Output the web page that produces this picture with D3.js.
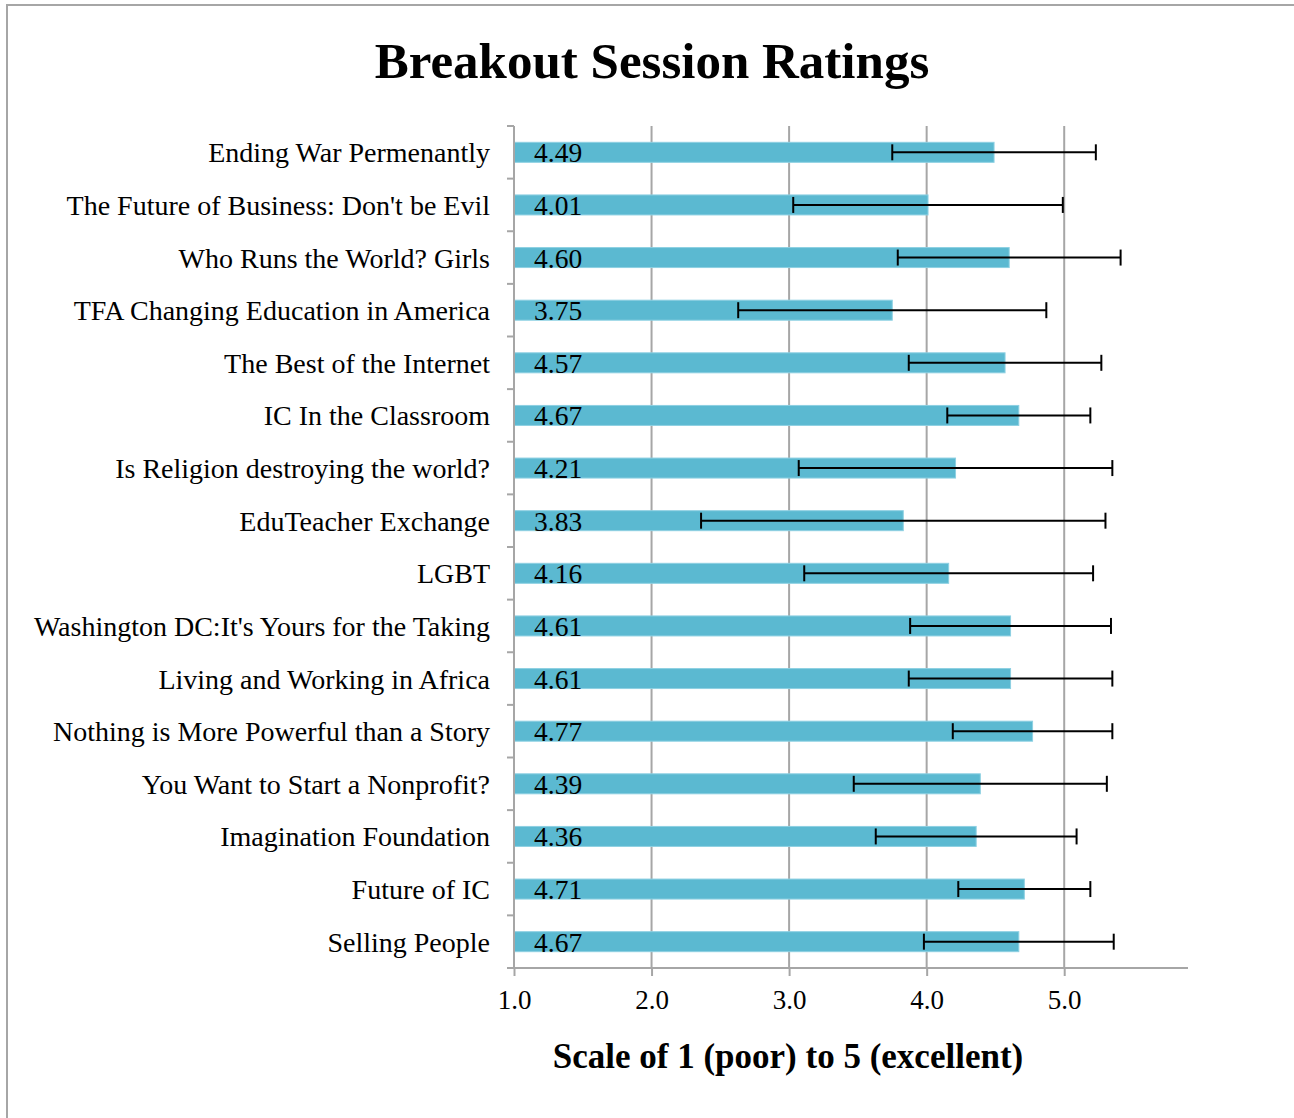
<!DOCTYPE html>
<html>
<head>
<meta charset="utf-8">
<script src="https://cdn.jsdelivr.net/npm/d3@7"></script>
<style>
  body { margin: 0; background: #fff; }
  svg { display: block; }
</style>
</head>
<body>
<script>
// session names, top to bottom as in the chart
var sessions = [
  "Ending War Permenantly",
  "The Future of Business: Don't be Evil",
  "Who Runs the World? Girls",
  "TFA Changing Education in America",
  "The Best of the Internet",
  "IC In the Classroom",
  "Is Religion destroying the world?",
  "EduTeacher Exchange",
  "LGBT",
  "Washington DC:It's Yours for the Taking",
  "Living and Working in Africa",
  "Nothing is More Powerful than a Story",
  "You Want to Start a Nonprofit?",
  "Imagination Foundation",
  "Future of IC",
  "Selling People"
];
// average rating per session
var ratings = [4.49, 4.01, 4.60, 3.75, 4.57, 4.67, 4.21, 3.83, 4.16, 4.61, 4.61, 4.77, 4.39, 4.36, 4.71, 4.67];
// +/- error (std dev)
var spread = [0.74, 0.98, 0.81, 1.12, 0.70, 0.52, 1.14, 1.47, 1.05, 0.73, 0.74, 0.58, 0.92, 0.73, 0.48, 0.69];
var xTicks = [1, 2, 3, 4, 5];

var svgWidth = 1294, svgHeight = 1118;
var margin = {top: 126, left: 514, right: 106, bottom: 150};
var plotW = svgWidth - margin.left - margin.right;   // 674
var plotH = svgHeight - margin.top - margin.bottom;  // 842

var svg = d3.select("body").append("svg")
  .attr("width", svgWidth)
  .attr("height", svgHeight);

// outer frame (runs off the right/bottom edge like the screenshot)
svg.append("rect")
  .attr("x", 7).attr("y", 5)
  .attr("width", 1400).attr("height", 1300)
  .attr("fill", "none")
  .attr("stroke", "#a6a6a6")
  .attr("stroke-width", 2);

var fontFam = "'Liberation Serif', 'Times New Roman', serif";

svg.append("text")
  .attr("x", 652).attr("y", 78)
  .attr("text-anchor", "middle")
  .attr("font-family", fontFam)
  .attr("font-weight", "bold")
  .attr("font-size", "51px")
  .text("Breakout Session Ratings");

var g = svg.append("g")
  .attr("transform", `translate(${margin.left}, ${margin.top})`);

var x = d3.scaleLinear().domain([1, 5.9]).range([0, plotW]);
var y = d3.scaleBand().domain(sessions).range([0, plotH]).paddingInner(0.62).paddingOuter(0.31);

var gridColor = "#a6a6a6";

// vertical gridlines
g.selectAll("line.grid")
  .data(xTicks.slice(1))
  .enter().append("line")
  .attr("class", "grid")
  .attr("x1", d => x(d)).attr("x2", d => x(d))
  .attr("y1", 0).attr("y2", plotH)
  .attr("stroke", gridColor).attr("stroke-width", 2);

// bars
g.selectAll("rect.bar")
  .data(sessions)
  .enter().append("rect")
  .attr("class", "bar")
  .attr("x", x(1))
  .attr("y", d => y(d))
  .attr("width", (d, i) => x(ratings[i]) - x(1))
  .attr("height", y.bandwidth())
  .attr("fill", "#5bb9d1")
  .attr("stroke", "#8dd0e2")
  .attr("stroke-width", 1);

// x axis
var xAxis = d3.axisBottom(x)
  .tickValues(xTicks)
  .tickFormat(d3.format(".1f"))
  .tickSize(8)
  .tickPadding(14);

var xg = g.append("g")
  .attr("transform", `translate(0, ${plotH})`)
  .call(xAxis);
xg.select(".domain").attr("stroke", gridColor).attr("stroke-width", 2)
  .attr("d", `M0,0H${plotW}`);
xg.selectAll(".tick line").attr("stroke", gridColor).attr("stroke-width", 2);
xg.selectAll(".tick text")
  .attr("font-family", fontFam)
  .attr("font-size", "27px")
  .attr("fill", "#000");

// y axis: line + ticks at band boundaries
g.append("line")
  .attr("x1", 0).attr("x2", 0)
  .attr("y1", 0).attr("y2", plotH)
  .attr("stroke", gridColor).attr("stroke-width", 2);

var step = y.step();
g.selectAll("line.ytick")
  .data(d3.range(sessions.length + 1))
  .enter().append("line")
  .attr("class", "ytick")
  .attr("x1", -7).attr("x2", 0)
  .attr("y1", i => i * step).attr("y2", i => i * step)
  .attr("stroke", gridColor).attr("stroke-width", 2);

// category labels
g.selectAll("text.cat")
  .data(sessions)
  .enter().append("text")
  .attr("class", "cat")
  .attr("x", -24)
  .attr("y", d => y(d) + y.bandwidth() / 2 + 10)
  .attr("text-anchor", "end")
  .attr("font-family", fontFam)
  .attr("font-size", "28px")
  .text(d => d);

// value labels inside the bars
g.selectAll("text.val")
  .data(sessions)
  .enter().append("text")
  .attr("class", "val")
  .attr("x", 20)
  .attr("y", d => y(d) + y.bandwidth() / 2 + 10)
  .attr("font-family", fontFam)
  .attr("font-size", "27.5px")
  .text((d, i) => ratings[i].toFixed(2));

// error bars
var eb = g.selectAll("g.err")
  .data(sessions)
  .enter().append("g")
  .attr("class", "err")
  .attr("transform", d => `translate(0, ${y(d) + y.bandwidth() / 2})`);

eb.append("line")
  .attr("x1", (d, i) => x(ratings[i] - spread[i]))
  .attr("x2", (d, i) => x(ratings[i] + spread[i]))
  .attr("stroke", "#000").attr("stroke-width", 2);
eb.append("line")
  .attr("x1", (d, i) => x(ratings[i] - spread[i]))
  .attr("x2", (d, i) => x(ratings[i] - spread[i]))
  .attr("y1", -8).attr("y2", 8)
  .attr("stroke", "#000").attr("stroke-width", 2);
eb.append("line")
  .attr("x1", (d, i) => x(ratings[i] + spread[i]))
  .attr("x2", (d, i) => x(ratings[i] + spread[i]))
  .attr("y1", -8).attr("y2", 8)
  .attr("stroke", "#000").attr("stroke-width", 2);

// x axis title
svg.append("text")
  .attr("x", 788).attr("y", 1068)
  .attr("text-anchor", "middle")
  .attr("font-family", fontFam)
  .attr("font-weight", "bold")
  .attr("font-size", "35px")
  .text("Scale of 1 (poor) to 5 (excellent)");
</script>
</body>
</html>
